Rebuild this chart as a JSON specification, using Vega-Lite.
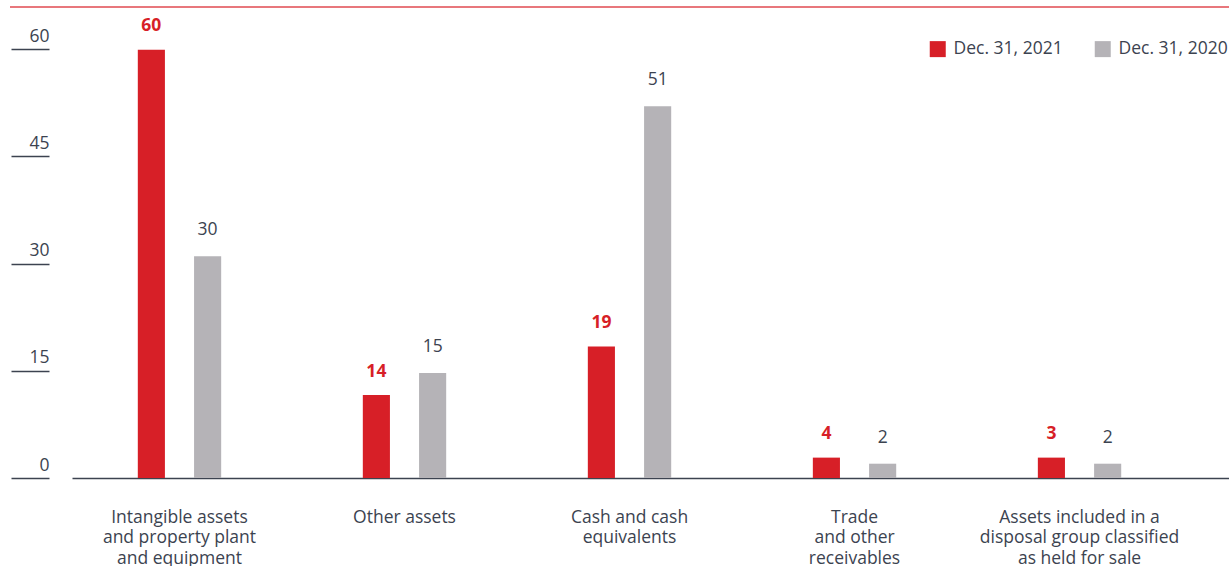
{
  "$schema": "https://vega.github.io/schema/vega-lite/v6.json",
  "width": 1157,
  "height": 429,
  "autosize": {"type": "none"},
  "padding": {"left": 72, "top": 49, "right": 0, "bottom": 88},
  "config": {
    "view": {"stroke": null},
    "font": "Open Sans",
    "text": {"font": "Open Sans"}
  },
  "data": {
    "values": [
      {"category": "Intangible assets and property plant and equipment", "series": "Dec. 31, 2021", "bar": 59.9, "label": "60"},
      {"category": "Intangible assets and property plant and equipment", "series": "Dec. 31, 2020", "bar": 31.0, "label": "30"},
      {"category": "Other assets", "series": "Dec. 31, 2021", "bar": 11.6, "label": "14"},
      {"category": "Other assets", "series": "Dec. 31, 2020", "bar": 14.7, "label": "15"},
      {"category": "Cash and cash equivalents", "series": "Dec. 31, 2021", "bar": 18.4, "label": "19"},
      {"category": "Cash and cash equivalents", "series": "Dec. 31, 2020", "bar": 52.0, "label": "51"},
      {"category": "Trade and other receivables", "series": "Dec. 31, 2021", "bar": 2.85, "label": "4"},
      {"category": "Trade and other receivables", "series": "Dec. 31, 2020", "bar": 2.0, "label": "2"},
      {"category": "Assets included in a disposal group classified as held for sale", "series": "Dec. 31, 2021", "bar": 2.85, "label": "3"},
      {"category": "Assets included in a disposal group classified as held for sale", "series": "Dec. 31, 2020", "bar": 2.0, "label": "2"}
    ]
  },
  "layer": [
    {
      "encoding": {
        "x": {
          "field": "category",
          "type": "nominal",
          "sort": null,
          "scale": {"paddingInner": 0.5, "paddingOuter": 0.321, "align": 0.3547},
          "axis": {
            "title": null,
            "ticks": false,
            "domainColor": "#3c4350",
            "domainWidth": 1.5,
            "labelFontSize": 17.5,
            "labelColor": "#3c4350",
            "labelPadding": 30,
            "labelBaseline": "top",
            "labelLineHeight": 20.5,
            "labelAngle": 0,
            "labelLimit": 400,
            "labelOverlap": false,
            "labelExpr": "{'Intangible assets and property plant and equipment':['Intangible assets','and property plant','and equipment'],'Other assets':['Other assets'],'Cash and cash equivalents':['Cash and cash','equivalents'],'Trade and other receivables':['Trade','and other','receivables'],'Assets included in a disposal group classified as held for sale':['Assets included in a','disposal group classified','as held for sale']}[datum.value]"
          }
        },
        "xOffset": {
          "field": "series",
          "type": "nominal",
          "sort": ["Dec. 31, 2021", "Dec. 31, 2020"],
          "scale": {"paddingInner": 0.518, "paddingOuter": 0.259}
        },
        "y": {
          "field": "bar",
          "type": "quantitative",
          "scale": {"domain": [0, 60], "nice": false},
          "axis": {
            "title": null,
            "values": [0, 15, 30, 45, 60],
            "domain": false,
            "grid": false,
            "ticks": true,
            "tickSize": 38,
            "tickColor": "#3c4350",
            "tickWidth": 1.5,
            "offset": 23,
            "labelAlign": "right",
            "labelPadding": -38,
            "labelBaseline": "alphabetic",
            "labelOffset": -8,
            "labelFontSize": 17.5,
            "labelColor": "#3c4350"
          }
        }
      },
      "layer": [
        {
          "mark": {"type": "bar"},
          "encoding": {
            "color": {
              "field": "series",
              "type": "nominal",
              "scale": {"domain": ["Dec. 31, 2021", "Dec. 31, 2020"], "range": ["#d71f27", "#b5b3b7"]},
              "legend": {
                "title": null,
                "orient": "none",
                "legendX": 857,
                "legendY": -9,
                "direction": "horizontal",
                "columns": 2,
                "symbolType": "square",
                "symbolSize": 256,
                "symbolStrokeWidth": 0,
                "symbolOpacity": 1,
                "labelFontSize": 17.5,
                "labelColor": "#3c4350",
                "labelOffset": 7,
                "columnPadding": 31
              }
            }
          }
        },
        {
          "transform": [{"filter": "datum.series === 'Dec. 31, 2021'"}],
          "mark": {"type": "text", "fontSize": 17.5, "fontWeight": "bold", "color": "#d71f27", "baseline": "alphabetic", "align": "center", "dy": -18.5},
          "encoding": {"text": {"field": "label"}}
        },
        {
          "transform": [{"filter": "datum.series === 'Dec. 31, 2020'"}],
          "mark": {"type": "text", "fontSize": 17.5, "color": "#3c4350", "baseline": "alphabetic", "align": "center", "dy": -21},
          "encoding": {"text": {"field": "label"}}
        }
      ]
    },
    {
      "data": {"values": [{}]},
      "mark": {"type": "rule", "color": "#e04a50", "strokeWidth": 1.5},
      "encoding": {
        "x": {"datum": -0.0536, "type": "quantitative", "scale": {"domain": [0, 1], "nice": false, "zero": false}, "axis": null},
        "x2": {"datum": 1},
        "y": {"datum": 65.87, "type": "quantitative"}
      }
    }
  ],
  "resolve": {"scale": {"x": "independent"}}
}
